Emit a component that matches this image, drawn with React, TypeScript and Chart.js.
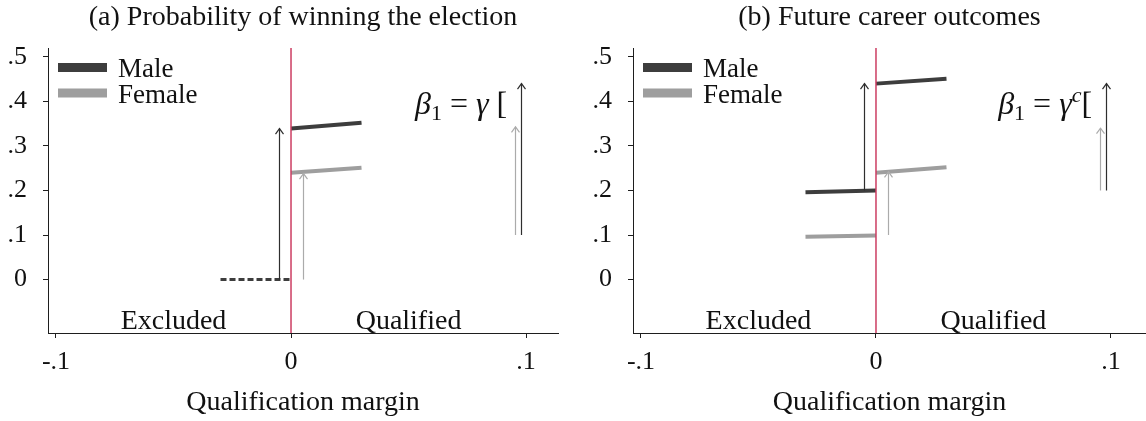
import React, { useEffect, useRef } from 'react';
import { Chart, registerables } from 'chart.js';

Chart.register(...registerables);

// ---------------- data ----------------
const panelTitles = ['(a) Probability of winning the election', '(b) Future career outcomes'];
const xAxisTitle = 'Qualification margin';
const seriesNames = ['Male', 'Female'];

const xTicks = [-0.1, 0, 0.1];
const xTickLabels = ['-.1', '0', '.1'];
const yTicks = [0, 0.1, 0.2, 0.3, 0.4, 0.5];
const yTickLabels = ['0', '.1', '.2', '.3', '.4', '.5'];

const cutoff = 0;
const leftSegX = [-0.03, 0];
const rightSegX = [0, 0.03];

// Panel (a)
const aExcludedBoth = [0, 0];
const aMaleRight = [0.339, 0.352];
const aFemaleRight = [0.24, 0.251];

// Panel (b)
const bMaleLeft = [0.196, 0.2];
const bFemaleLeft = [0.096, 0.099];
const bMaleRight = [0.44, 0.451];
const bFemaleRight = [0.24, 0.252];

// Arrows: x position, start value, end value, series (0 = Male, 1 = Female)
const arrowX = [-0.005, 0.005, 0.0955, 0.098];
const arrowSeries = [0, 1, 1, 0];
const aArrowFrom = [0, 0, 0.1, 0.1];
const aArrowTo = [0.339, 0.238, 0.343, 0.44];
const bArrowFrom = [0.2, 0.1, 0.2, 0.2];
const bArrowTo = [0.44, 0.242, 0.34, 0.44];

const regionLabels = ['Excluded', 'Qualified'];
const regionLabelX = [-0.05, 0.05];
const regionLabelY = -0.11;

// formula pieces: [text, kind]
const aFormula: [string, string][] = [['β', 'i'], ['1', 'sub'], [' = ', 'n'], ['γ', 'i'], [' [', 'n']];
const bFormula: [string, string][] = [['β', 'i'], ['1', 'sub'], [' = ', 'n'], ['γ', 'i'], ['c', 'sup'], ['[', 'n']];
const formulaX = 0.092;
const formulaY = 0.371;

// ---------------- style ----------------
const FONT = "'Liberation Serif', 'Times New Roman', serif";
const DARK = '#3d3d3d';
const GRAY = '#9e9e9e';
const ARROW_COLORS = ['#2e2e2e', '#ababab'];
const CUTOFF_COLOR = '#cc3d62';
const AXIS = '#1e1e1e';
const TEXT = '#111111';
const Y_MIN = -0.12;
const Y_MAX = 0.52;
const X_MIN = -0.1034;

type Seg = { label: string; xs: number[]; ys: number[]; color: string; dashed?: boolean };

type PanelDef = {
  title: string;
  segs: Seg[];
  arrowFrom: number[];
  arrowTo: number[];
  formula: [string, string][];
  width: number;
  padRight: number;
  xMax: number;
};

const panels: PanelDef[] = [
  {
    title: panelTitles[0],
    segs: [
      { label: 'Male', xs: rightSegX, ys: aMaleRight, color: DARK },
      { label: 'Female', xs: rightSegX, ys: aFemaleRight, color: GRAY },
      { label: 'Excluded (both)', xs: leftSegX, ys: aExcludedBoth, color: DARK, dashed: true },
    ],
    arrowFrom: aArrowFrom,
    arrowTo: aArrowTo,
    formula: aFormula,
    width: 585,
    padRight: 27,
    xMax: 0.1136,
  },
  {
    title: panelTitles[1],
    segs: [
      { label: 'Male', xs: leftSegX, ys: bMaleLeft, color: DARK },
      { label: 'Male', xs: rightSegX, ys: bMaleRight, color: DARK },
      { label: 'Female', xs: leftSegX, ys: bFemaleLeft, color: GRAY },
      { label: 'Female', xs: rightSegX, ys: bFemaleRight, color: GRAY },
    ],
    arrowFrom: bArrowFrom,
    arrowTo: bArrowTo,
    formula: bFormula,
    width: 561,
    padRight: 0,
    xMax: 0.1149,
  },
];

function PanelChart({ def }: { def: PanelDef }) {
  const ref = useRef<HTMLCanvasElement | null>(null);

  useEffect(() => {
    if (!ref.current) return;

    const datasets: any[] = [
      {
        label: 'cutoff',
        data: [
          { x: cutoff, y: Y_MIN },
          { x: cutoff, y: Y_MAX },
        ],
        showLine: true,
        borderColor: CUTOFF_COLOR,
        borderWidth: 1.5,
        pointRadius: 0,
        order: 0,
      },
      ...def.segs.map((s, k) => ({
        label: s.label,
        data: s.xs.map((x, i) => ({ x, y: s.ys[i] })),
        showLine: true,
        borderColor: s.color,
        borderWidth: s.dashed ? 3 : 4,
        borderDash: s.dashed ? [6, 3] : [],
        borderCapStyle: 'butt',
        pointRadius: 0,
        order: 1 + k,
      })),
    ];

    const annot = {
      id: 'annot',
      afterDatasetsDraw(chart: any) {
        const { ctx, chartArea } = chart;
        const xs = chart.scales.x;
        const ys = chart.scales.y;
        ctx.save();
        // arrows
        arrowX.forEach((ax, i) => {
          const px = Math.round(xs.getPixelForValue(ax)) + 0.5;
          const y0 = ys.getPixelForValue(def.arrowFrom[i]);
          const y1 = ys.getPixelForValue(def.arrowTo[i]);
          ctx.strokeStyle = ARROW_COLORS[arrowSeries[i]];
          ctx.lineWidth = 1.2;
          ctx.setLineDash([]);
          ctx.beginPath();
          ctx.moveTo(px, y0);
          ctx.lineTo(px, y1);
          ctx.stroke();
          ctx.beginPath();
          ctx.moveTo(px - 4, y1 + 5.5);
          ctx.lineTo(px, y1);
          ctx.lineTo(px + 4, y1 + 5.5);
          ctx.stroke();
        });
        // region labels
        ctx.fillStyle = TEXT;
        ctx.font = `28px ${FONT}`;
        ctx.textAlign = 'center';
        ctx.textBaseline = 'alphabetic';
        regionLabels.forEach((t, i) => {
          ctx.fillText(t, xs.getPixelForValue(regionLabelX[i]), ys.getPixelForValue(regionLabelY));
        });
        // formula
        const fontFor = (kind: string) => {
          if (kind === 'i') return `italic 32px ${FONT}`;
          if (kind === 'sub') return `22px ${FONT}`;
          if (kind === 'sup') return `italic 22px ${FONT}`;
          return `32px ${FONT}`;
        };
        const offFor = (kind: string) => (kind === 'sub' ? 6 : kind === 'sup' ? -12 : 0);
        let total = 0;
        const widths = def.formula.map(([t, k]) => {
          ctx.font = fontFor(k);
          const w = ctx.measureText(t).width;
          total += w;
          return w;
        });
        let fx = xs.getPixelForValue(formulaX) - total;
        const fy = ys.getPixelForValue(formulaY);
        ctx.textAlign = 'left';
        def.formula.forEach(([t, k], i) => {
          ctx.font = fontFor(k);
          ctx.fillText(t, fx, fy + offFor(k));
          fx += widths[i];
        });
        // legend
        seriesNames.forEach((name, i) => {
          const cy = chartArea.top + 19.5 + i * 25.5;
          ctx.fillStyle = i === 0 ? DARK : GRAY;
          ctx.fillRect(chartArea.left + 10, cy - 4.5, 49, 9);
          ctx.fillStyle = TEXT;
          ctx.font = `27px ${FONT}`;
          ctx.fillText(name, chartArea.left + 70, cy + 9.5);
        });
        // panel title
        ctx.font = `28px ${FONT}`;
        ctx.textAlign = 'center';
        ctx.fillText(def.title, (chartArea.left + chartArea.right) / 2, chartArea.top - 23);
        ctx.restore();
      },
    };

    const chart = new Chart(ref.current, {
      type: 'scatter',
      data: { datasets },
      plugins: [annot],
      options: {
        animation: false,
        responsive: false,
        events: [],
        layout: { padding: { top: 48, left: 0, right: def.padRight, bottom: 0 } },
        plugins: {
          legend: { display: false },
          title: { display: false },
          tooltip: { enabled: false },
        },
        scales: {
          x: {
            type: 'linear',
            min: X_MIN,
            max: def.xMax,
            afterBuildTicks: (s: any) => {
              s.ticks = xTicks.map((v) => ({ value: v }));
            },
            afterFit: (s: any) => {
              s.height = 88;
            },
            ticks: {
              callback: (_v: any, i: number) => xTickLabels[i],
              font: { family: FONT, size: 26 },
              color: TEXT,
              padding: 9,
              maxRotation: 0,
              autoSkip: false,
            },
            grid: { display: true, drawOnChartArea: false, drawTicks: true, tickLength: 5, color: AXIS, lineWidth: 1 },
            border: { display: true, color: AXIS, width: 1 },
            title: {
              display: true,
              text: xAxisTitle,
              font: { family: FONT, size: 28 },
              color: TEXT,
              padding: { top: 0, bottom: 2 },
            },
          },
          y: {
            type: 'linear',
            min: Y_MIN,
            max: Y_MAX,
            afterBuildTicks: (s: any) => {
              s.ticks = yTicks.map((v) => ({ value: v }));
            },
            afterFit: (s: any) => {
              s.width = 48;
            },
            ticks: {
              callback: (_v: any, i: number) => yTickLabels[i],
              font: { family: FONT, size: 26 },
              color: TEXT,
              padding: 16,
              autoSkip: false,
            },
            grid: { display: true, drawOnChartArea: false, drawTicks: true, tickLength: 5, color: AXIS, lineWidth: 1 },
            border: { display: true, color: AXIS, width: 1 },
          },
        },
      } as any,
    });

    return () => chart.destroy();
  }, [def]);

  return <canvas ref={ref} width={def.width} height={421} style={{ display: 'block', width: def.width, height: 421 }} />;
}

export default function App() {
  return (
    <div
      style={{
        position: 'absolute',
        left: 0,
        top: 0,
        width: 1146,
        height: 421,
        background: '#ffffff',
        display: 'flex',
        overflow: 'hidden',
      }}
    >
      {panels.map((p, i) => (
        <PanelChart key={i} def={p} />
      ))}
    </div>
  );
}
